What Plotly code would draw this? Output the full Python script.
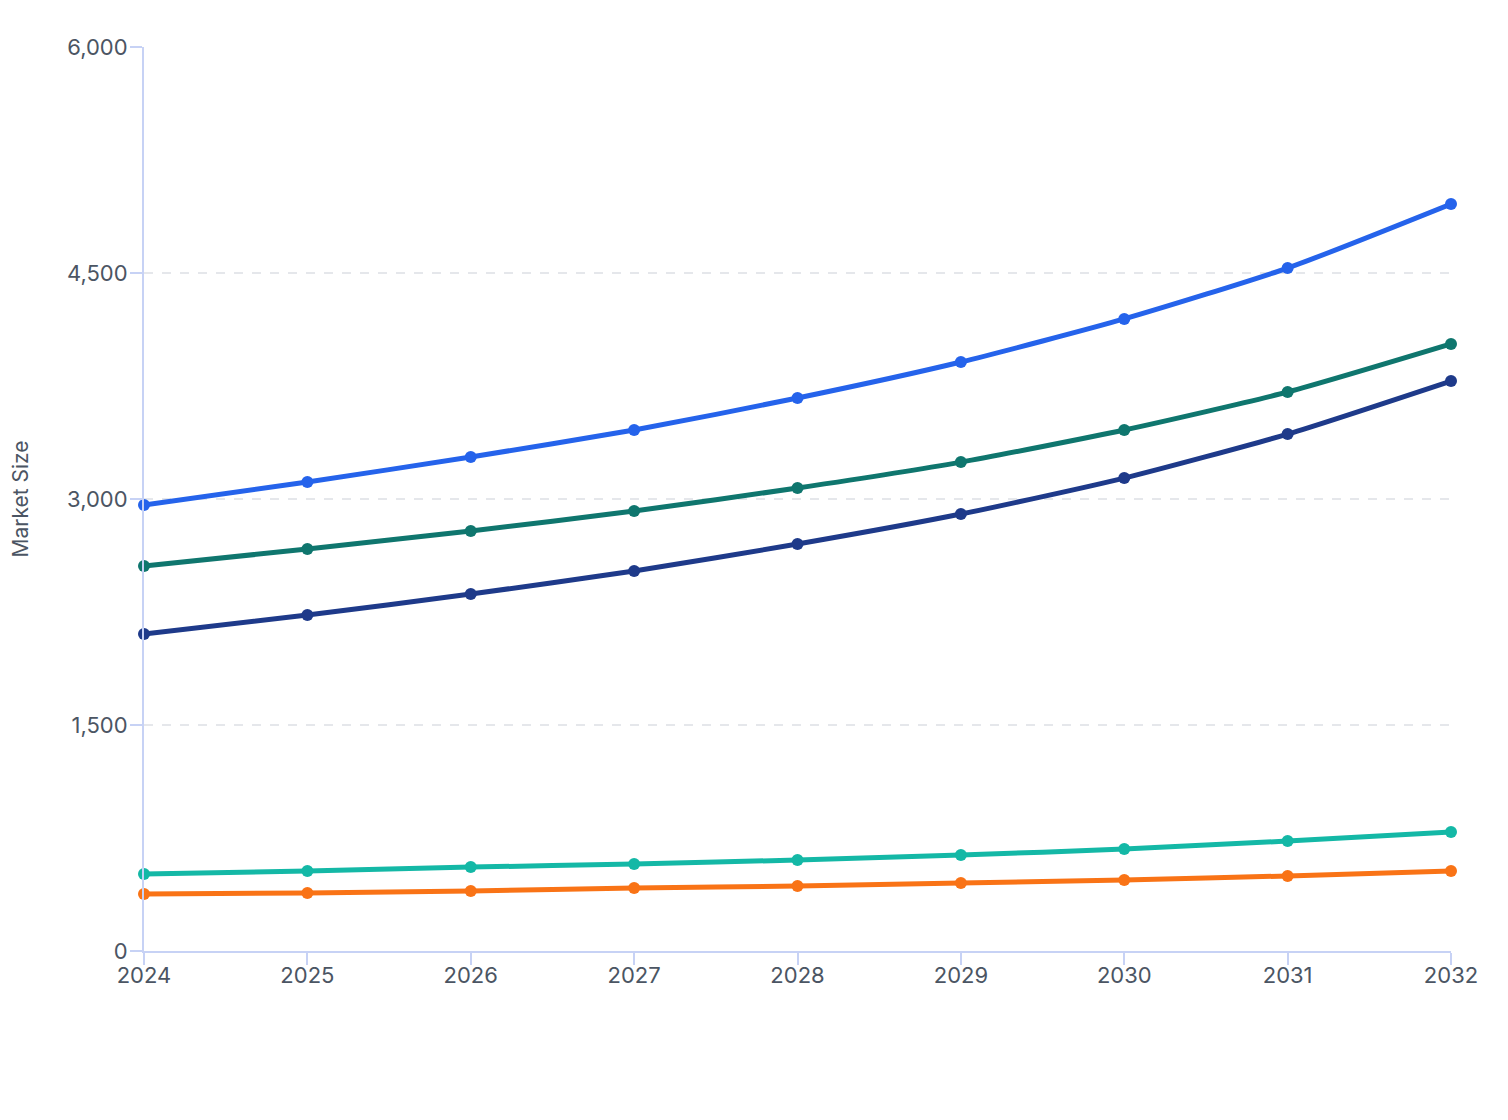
import plotly.graph_objects as go

years = [2024, 2025, 2026, 2027, 2028, 2029, 2030, 2031, 2032]
series_a = [2960, 3113, 3279, 3458, 3670, 3909, 4195, 4533, 4958]
series_b = [2555, 2668, 2788, 2920, 3073, 3245, 3458, 3710, 4029]
series_c = [2104, 2230, 2369, 2522, 2701, 2900, 3139, 3431, 3783]
series_d = [511, 531, 557, 577, 604, 637, 677, 730, 790]
series_e = [378, 385, 398, 418, 431, 451, 471, 498, 531]
y_ticks = [0, 1500, 3000, 4500, 6000]

names = ["Series A", "Series B", "Series C", "Series D", "Series E"]
values = [series_a, series_b, series_c, series_d, series_e]
colors = ["#2563eb", "#0f766e", "#1e3a8a", "#14b8a6", "#f97316"]

fig = go.Figure()
for n, v, c in zip(names, values, colors):
    fig.add_trace(go.Scatter(
        x=years, y=v, name=n, mode="lines+markers",
        line=dict(color=c, width=5, shape="spline", smoothing=0.6),
        marker=dict(color=c, size=12),
        cliponaxis=False,
    ))

font_family = "Inter, 'Noto Sans', sans-serif"
fig.update_layout(
    width=1508, height=1120,
    margin=dict(l=136, r=65, t=39, b=177),
    paper_bgcolor="white", plot_bgcolor="white",
    showlegend=False,
    font=dict(family=font_family, color="#4b5563", size=22),
)
fig.update_xaxes(
    range=[2024, 2032], tickvals=years, ticktext=[str(y) for y in years],
    showgrid=False, zeroline=False, automargin=False,
    showline=True, linecolor="#c7d2f5", linewidth=2,
    ticks="outside", ticklen=12, tickcolor="#c7d2f5", tickwidth=2,
    ticklabelstandoff=-8,
    tickfont=dict(size=22, color="#4b5563"),
)
fig.update_yaxes(
    range=[0, 6000], tickvals=y_ticks, tickformat=",",
    showgrid=True, gridcolor="#e5e7eb", griddash="dash", gridwidth=1.5,
    zeroline=False, automargin=False,
    showline=True, linecolor="#c7d2f5", linewidth=2,
    ticks="outside", ticklen=12, tickcolor="#c7d2f5", tickwidth=2,
    ticklabelstandoff=-2,
    tickfont=dict(size=22, color="#4b5563"),
    title=dict(text="Market Size", font=dict(size=21, color="#4b5563"), standoff=44),
)

fig.write_html("out.html")
